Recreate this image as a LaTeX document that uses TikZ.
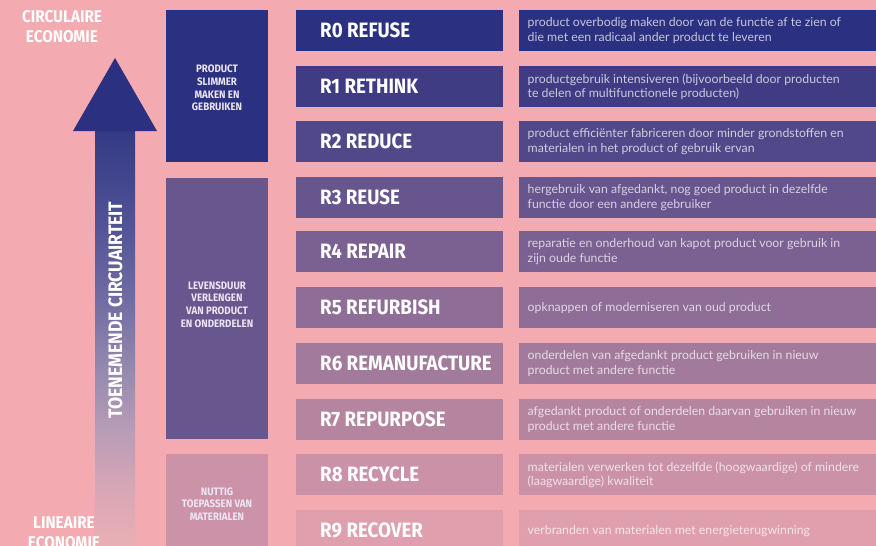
\documentclass[tikz,border=0pt]{standalone}
\usepackage{fontspec}
\setmainfont{Lato}
\newfontfamily\condfont[FakeStretch=0.9]{Fira Sans}
\definecolor{bg}{HTML}{F3AAB1}
\definecolor{navy}{HTML}{2B3080}
\definecolor{c0}{HTML}{2B3080}
\definecolor{c1}{HTML}{3F3C84}
\definecolor{c2}{HTML}{51488A}
\definecolor{c3}{HTML}{67558E}
\definecolor{c4}{HTML}{7A6192}
\definecolor{c5}{HTML}{8E6D97}
\definecolor{c6}{HTML}{A27B9C}
\definecolor{c7}{HTML}{B585A0}
\definecolor{c8}{HTML}{CB92A7}
\definecolor{c9}{HTML}{E09FAC}
\definecolor{g2}{HTML}{68568E}
\definecolor{g3}{HTML}{CC93A8}
\definecolor{grptxt}{HTML}{ECE6F4}
\definecolor{s1}{HTML}{EAAFB5}
\definecolor{s2}{HTML}{D8A7B5}
\definecolor{s3}{HTML}{B89CB6}
\definecolor{s4}{HTML}{9A8DB0}
\definecolor{s5}{HTML}{716CA3}
\definecolor{s6}{HTML}{545498}
\definecolor{s7}{HTML}{3C4189}
\definecolor{s8}{HTML}{353A86}
\pgfdeclareverticalshading{shaftshade}{100bp}{color(0bp)=(s1); color(25bp)=(s1); color(31.7bp)=(s2); color(39bp)=(s3); color(45bp)=(s4); color(54.6bp)=(s5); color(63.1bp)=(s6); color(71.5bp)=(s7); color(75bp)=(s8); color(100bp)=(s8)}
\tikzset{
  box/.style={draw=none, inner sep=0pt, anchor=north west},
  lblbox/.style={box, minimum width=207pt, minimum height=41pt},
  descbox/.style={box, minimum width=357pt, minimum height=41pt},
  grpbox/.style={box, minimum width=102pt},
  lbltext/.style={anchor=west, inner sep=0pt, text=white, font=\condfont\bfseries\fontsize{20.8}{24}\selectfont},
  desctext/.style={anchor=west, inner sep=0pt, align=left, text=white, text opacity=0.72, font=\fontsize{12.3}{14.5}\selectfont},
  grptext/.style={inner sep=0pt, align=center, text=grptxt, font=\condfont\bfseries\fontsize{10.8}{12.7}\selectfont},
  bigtext/.style={inner sep=0pt, align=center, text=white, font=\condfont\bfseries\fontsize{17}{20}\selectfont},
}
\begin{document}
\begin{tikzpicture}[x=1pt, y=-1pt]
\useasboundingbox (0,0) rectangle (876,546);
\fill[bg] (0,0) rectangle (876,546);
% arrow
\shade[shading=shaftshade] (95,131) rectangle (135,546);
\fill[navy] (73,131) -- (115,58) -- (157,131) -- cycle;
\node[bigtext, rotate=90, font=\condfont\bfseries\fontsize{19.5}{22}\selectfont] (trend) at (115.3,310) {TOENEMENDE CIRCUAIRTEIT};
\node[bigtext] (circ) at (62,27) {CIRCULAIRE\\ECONOMIE};
\node[bigtext] (lin) at (64,533) {LINEAIRE\\ECONOMIE};
% groups
\node[grpbox, fill=navy, minimum height=152pt] (grp1) at (166,10) {};
\node[grpbox, fill=g2, minimum height=261pt] (grp2) at (166,178) {};
\node[grpbox, fill=g3, minimum height=100pt] (grp3) at (166,454) {};
\node[grptext] (grp1t) at (217,88) {PRODUCT\\SLIMMER\\MAKEN EN\\GEBRUIKEN};
\node[grptext] (grp2t) at (217,304.5) {LEVENSDUUR\\VERLENGEN\\VAN PRODUCT\\EN ONDERDELEN};
\node[grptext] (grp3t) at (217,504) {NUTTIG\\TOEPASSEN VAN\\MATERIALEN};
% rows
\foreach \i/\t/\lab/\desc in {
  0/10/{R0 REFUSE}/{product overbodig maken door van de functie af te zien of\\die met een radicaal ander product te leveren},
  1/66/{R1 RETHINK}/{productgebruik intensiveren (bijvoorbeeld door producten\\te delen of multifunctionele producten)},
  2/121/{R2 REDUCE}/{product efficiënter fabriceren door minder grondstoffen en\\materialen in het product of gebruik ervan},
  3/177/{R3 REUSE}/{hergebruik van afgedankt, nog goed product in dezelfde\\functie door een andere gebruiker},
  4/231/{R4 REPAIR}/{reparatie en onderhoud van kapot product voor gebruik in\\zijn oude functie},
  5/287/{R5 REFURBISH}/{opknappen of moderniseren van oud product},
  6/343/{R6 REMANUFACTURE}/{onderdelen van afgedankt product gebruiken in nieuw\\product met andere functie},
  7/399/{R7 REPURPOSE}/{afgedankt product of onderdelen daarvan gebruiken in nieuw\\product met andere functie},
  8/454/{R8 RECYCLE}/{materialen verwerken tot dezelfde (hoogwaardige) of mindere\\(laagwaardige) kwaliteit},
  9/510/{R9 RECOVER}/{verbranden van materialen met energieterugwinning}}{
  \node[lblbox, fill=c\i] (lb\i) at (296,\t) {};
  \node[lbltext] (lt\i) at ([xshift=24pt]lb\i.west) {\lab};
  \node[descbox, fill=c\i] (db\i) at (519,\t) {};
  \node[desctext] (dt\i) at ([xshift=8.5pt]db\i.west) {\desc};
}
\end{tikzpicture}
\end{document}
